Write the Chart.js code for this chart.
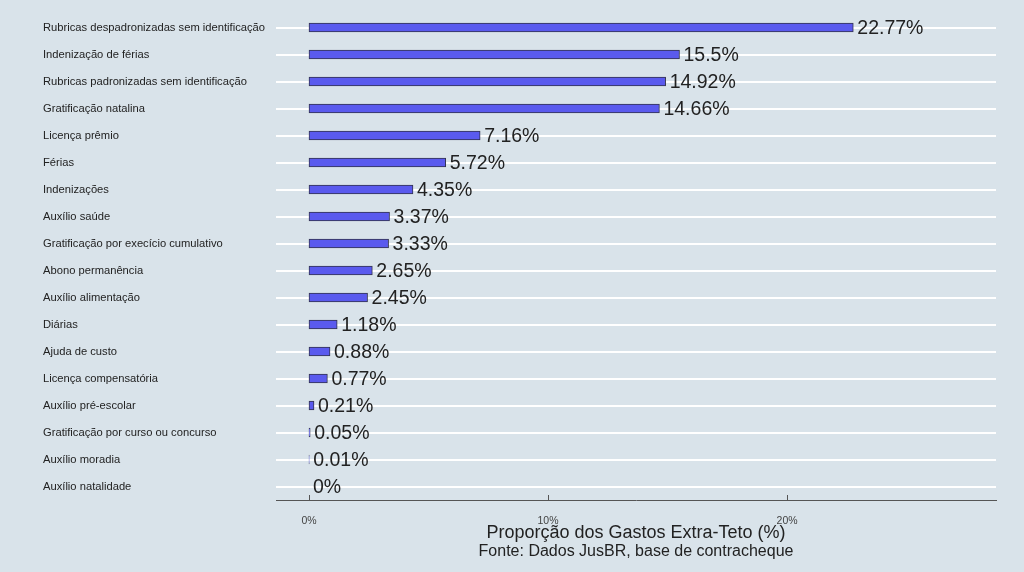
<!DOCTYPE html>
<html>
<head>
<meta charset="utf-8">
<script src="https://cdn.jsdelivr.net/npm/chart.js@4/dist/chart.umd.min.js"></script>
<style>
  html, body { margin: 0; padding: 0; background: #d9e3ea; }
  #wrap { width: 1024px; height: 572px; }
</style>
</head>
<body>
<div id="wrap"><canvas id="gastosChart" width="1024" height="572"></canvas></div>
<script>
const categorias = [
  'Rubricas despadronizadas sem identificação',
  'Indenização de férias',
  'Rubricas padronizadas sem identificação',
  'Gratificação natalina',
  'Licença prêmio',
  'Férias',
  'Indenizações',
  'Auxílio saúde',
  'Gratificação por execício cumulativo',
  'Abono permanência',
  'Auxílio alimentação',
  'Diárias',
  'Ajuda de custo',
  'Licença compensatória',
  'Auxílio pré-escolar',
  'Gratificação por curso ou concurso',
  'Auxílio moradia',
  'Auxílio natalidade'
];
const proporcoes = [22.77, 15.5, 14.92, 14.66, 7.16, 5.72, 4.35, 3.37, 3.33, 2.65, 2.45, 1.18, 0.88, 0.77, 0.21, 0.05, 0.01, 0];
const xTicks = [0, 10, 20];
const fonte = 'Fonte: Dados JusBR, base de contracheque';

// value labels to the right of each bar
const valueLabels = {
  id: 'valueLabels',
  afterDatasetsDraw(chart) {
    const ctx = chart.ctx;
    const meta = chart.getDatasetMeta(0);
    ctx.save();
    ctx.font = '19.5px "Liberation Sans", Arial, sans-serif';
    ctx.fillStyle = '#222222';
    ctx.textBaseline = 'middle';
    ctx.textAlign = 'left';
    meta.data.forEach((bar, i) => {
      ctx.fillText(proporcoes[i] + '%', bar.x + 4, bar.y + 1.5);
    });
    ctx.restore();
  }
};

// small tick marks pointing up from the x axis line, plus source line
const innerTicks = {
  id: 'innerTicks',
  afterDraw(chart) {
    const ctx = chart.ctx;
    const x = chart.scales.x;
    const area = chart.chartArea;
    ctx.save();
    ctx.strokeStyle = '#555555';
    ctx.lineWidth = 1;
    xTicks.forEach(t => {
      const px = Math.round(x.getPixelForValue(t)) + 0.5;
      ctx.beginPath();
      ctx.moveTo(px, area.bottom);
      ctx.lineTo(px, area.bottom - 5);
      ctx.stroke();
    });
    ctx.font = '16px "Liberation Sans", Arial, sans-serif';
    ctx.fillStyle = '#222222';
    ctx.textAlign = 'center';
    ctx.textBaseline = 'middle';
    ctx.fillText(fonte, (area.left + area.right) / 2, area.bottom + 52);
    ctx.restore();
  }
};

new Chart(document.getElementById('gastosChart'), {
  type: 'bar',
  data: {
    labels: categorias,
    datasets: [{
      data: proporcoes,
      backgroundColor: '#5a5aee',
      borderColor: '#33334d',
      borderWidth: 1,
      borderSkipped: false,
      barThickness: 9
    }]
  },
  options: {
    indexAxis: 'y',
    responsive: false,
    animation: false,
    layout: { padding: { left: 43, top: 14, right: 28, bottom: 0 } },
    plugins: {
      legend: { display: false },
      tooltip: { enabled: false }
    },
    scales: {
      y: {
        afterFit(scale) { scale.width = 233; },
        grid: { color: '#ffffff', lineWidth: 2, offset: false, drawTicks: false },
        border: { display: false },
        ticks: {
          crossAlign: 'far',
          color: '#222222',
          font: { family: '"Liberation Sans", Arial, sans-serif', size: 11.2 }
        }
      },
      x: {
        min: -1.38,
        max: 28.74,
        afterBuildTicks(scale) { scale.ticks = xTicks.map(v => ({ value: v })); },
        afterFit(scale) { scale.height = 72; },
        grid: { display: false, drawTicks: false },
        border: { display: true, color: '#555555', width: 1 },
        ticks: {
          padding: 15,
          color: '#444444',
          font: { family: '"Liberation Sans Narrow", "Arial Narrow", sans-serif', size: 10.5 },
          callback: v => v + '%'
        },
        title: {
          display: true,
          text: 'Proporção dos Gastos Extra-Teto (%)',
          color: '#222222',
          font: { family: '"Liberation Sans", Arial, sans-serif', size: 18, lineHeight: '18px' },
          padding: { top: 0, bottom: 30 }
        }
      }
    }
  },
  plugins: [valueLabels, innerTicks]
});
</script>
</body>
</html>
